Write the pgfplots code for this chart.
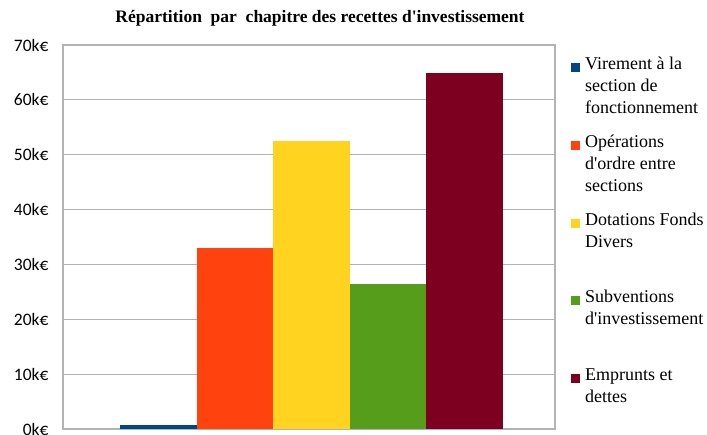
\documentclass[border=0pt]{standalone}
\usepackage{pgfplots}
\pgfplotsset{compat=1.18}
\usepackage{fontspec}
\setmainfont{Liberation Serif}
\newfontfamily\carlito{Carlito}

\definecolor{cBlue}{HTML}{004586}
\definecolor{cOrange}{HTML}{FF420E}
\definecolor{cYellow}{HTML}{FFD320}
\definecolor{cGreen}{HTML}{579D1C}
\definecolor{cMaroon}{HTML}{7E0021}
\definecolor{gridgray}{HTML}{B3B3B3}

% legend entry: fixed-height box, text at its top
\newcommand{\entry}[1]{\parbox[b][76.3pt][t]{125pt}{\fontsize{18}{22}\selectfont #1}}
\newcommand{\q}{\textquotesingle}

\begin{document}
\begin{tikzpicture}
\begin{axis}[
  at={(63pt,6pt)}, anchor=south west,
  scale only axis,
  width=492pt, height=384pt,
  xmin=-1.244, xmax=5.179,
  ymin=0, ymax=70,
  ybar, bar shift=0pt, bar width=1,
  xtick=\empty,
  ytick={0,10,...,70},
  yticklabels={0k€,10k€,20k€,30k€,40k€,50k€,60k€,70k€},
  yticklabel style={font=\carlito\fontsize{17.5}{20}\selectfont, xshift=-11pt},
  major tick length=0pt,
  ymajorgrids,
  grid style={gridgray, line width=1pt},
  axis line style={gridgray, line width=1.2pt},
  legend cell align=left,
  legend style={draw=none, fill=none, inner sep=0pt, row sep=0pt, column sep=5pt,
    at={(1.0325,0.969)}, anchor=north west,
    nodes={inner sep=0pt}},
  legend image code/.code={\fill[#1,draw=none] (0pt,24pt) rectangle (9pt,33pt);},
]
\addplot[fill=cBlue, draw=none] coordinates {(0,0.7)};
\addlegendentry{\entry{Virement à la\\section de\\fonctionnement}}
\addplot[fill=cOrange, draw=none] coordinates {(1,33.0)};
\addlegendentry{\entry{Opérations\\d\q ordre entre\\sections}}
\addplot[fill=cYellow, draw=none] coordinates {(2,52.5)};
\addlegendentry{\entry{Dotations Fonds\\Divers}}
\addplot[fill=cGreen, draw=none] coordinates {(3,26.4)};
\addlegendentry{\entry{Subventions\\d\q investissement}}
\addplot[fill=cMaroon, draw=none] coordinates {(4,64.9)};
\addlegendentry{\entry{Emprunts et\\dettes}}
\end{axis}
\node[font=\bfseries\fontsize{17.5}{20}\selectfont] at (320pt,417pt) {Répartition\ \ par\ \ chapitre des recettes d\q investissement};
\pgfresetboundingbox
\useasboundingbox (0pt,0pt) rectangle (707pt,435pt);
\end{tikzpicture}
\end{document}
